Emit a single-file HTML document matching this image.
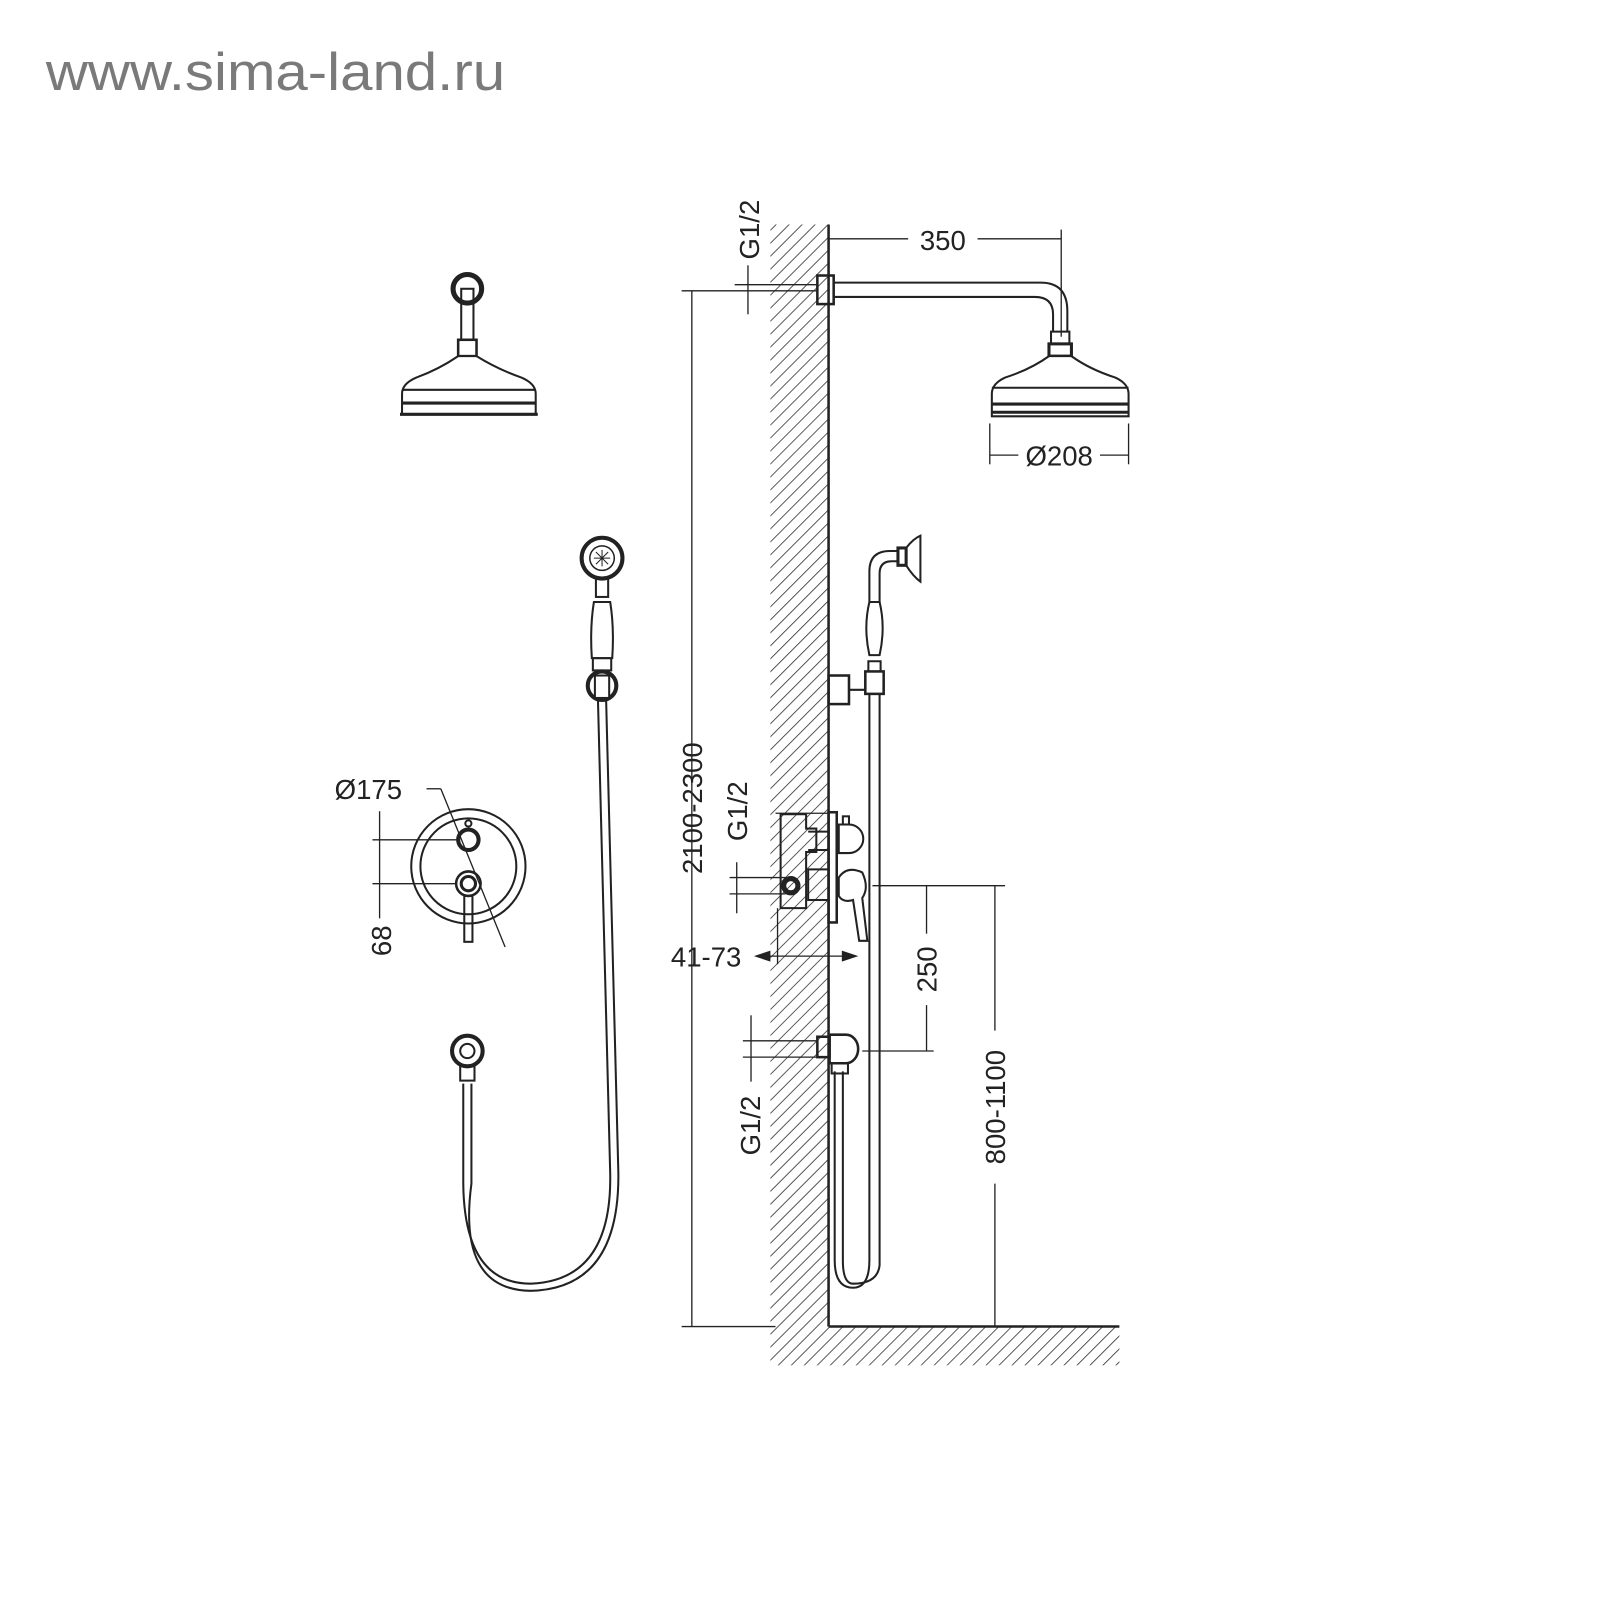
<!DOCTYPE html>
<html><head><meta charset="utf-8"><style>
html,body{margin:0;padding:0;background:#fff;}
svg{display:block}
text{font-family:"Liberation Sans",Arial,sans-serif;fill:#222}
</style></head><body>
<svg width="1600" height="1600" viewBox="0 0 1568 1568" xmlns="http://www.w3.org/2000/svg">
<defs>
<pattern id="h" patternUnits="userSpaceOnUse" width="9" height="9" patternTransform="rotate(45)">
<rect width="9" height="9" fill="#fff"/><line x1="0" y1="0" x2="0" y2="9" stroke="#333" stroke-width="1.6"/>
</pattern>
</defs>
<rect width="1568" height="1568" fill="#fff"/>
<text x="45" y="88" font-size="52" textLength="450" lengthAdjust="spacingAndGlyphs" style="fill:#7a7a7a">www.sima-land.ru</text>

<g stroke="#222" stroke-width="2" fill="none">
<rect x="755" y="220" width="57" height="1080" fill="url(#h)" stroke="none"/>
<rect x="755" y="1300" width="342" height="38" fill="url(#h)" stroke="none"/>
<line x1="812" y1="220" x2="812" y2="1300" stroke-width="2.5"/>
<line x1="812" y1="1300" x2="1097" y2="1300" stroke-width="2.5"/>

<line x1="678" y1="285" x2="678" y2="1300" stroke-width="1.3"/>
<line x1="668" y1="285" x2="800" y2="285" stroke-width="1.3"/>
<line x1="668" y1="1300" x2="760" y2="1300" stroke-width="1.3"/>
<line x1="733" y1="260" x2="733" y2="308" stroke-width="1.3"/>
<line x1="720" y1="279" x2="800" y2="279" stroke-width="1.3"/>

<line x1="812" y1="234" x2="890" y2="234" stroke-width="1.3"/>
<line x1="958" y1="234" x2="1040" y2="234" stroke-width="1.3"/>
<line x1="1040" y1="225" x2="1040" y2="330" stroke-width="1.3"/>

<rect x="801" y="270" width="16" height="28" stroke-width="2.5"/>
<path d="M817 277 H1020 Q1046 277 1046 305 V325"/>
<path d="M817 291 H1014 Q1032 291 1032 308 V325"/>
<rect x="1030" y="325" width="18" height="12"/>
<rect x="1028" y="337" width="22" height="12" stroke-width="3"/>
<path d="M1028 349 Q1010 362 985 370 Q972 376 972 386 V408 H1106 V386 Q1106 376 1093 370 Q1068 362 1050 349 Z" fill="#fff"/>
<line x1="972" y1="380" x2="1106" y2="380"/>
<line x1="972" y1="396" x2="1106" y2="396" stroke-width="3"/>
<line x1="972" y1="404" x2="1106" y2="404" stroke-width="3"/>
<line x1="970" y1="415" x2="970" y2="455" stroke-width="1.3"/>
<line x1="1106" y1="415" x2="1106" y2="455" stroke-width="1.3"/>
<line x1="970" y1="446" x2="998" y2="446" stroke-width="1.3"/>
<line x1="1078" y1="446" x2="1106" y2="446" stroke-width="1.3"/>

<circle cx="458" cy="283" r="14" stroke-width="5"/>
<rect x="452" y="283" width="12" height="50"/>
<rect x="449" y="333" width="18" height="16" stroke-width="2.5"/>
<path d="M449 349 Q430 362 408 370 Q394 376 394 386 V406 H525 V386 Q525 376 511 370 Q488 362 467 349 Z" fill="#fff"/>
<line x1="394" y1="382" x2="525" y2="382"/>
<line x1="394" y1="395" x2="525" y2="395" stroke-width="3"/>
<line x1="392" y1="406" x2="527" y2="406" stroke-width="3"/>

<circle cx="590" cy="547" r="20" stroke-width="4"/>
<circle cx="590" cy="547" r="12" stroke-width="1.5"/>
<path d="M582 547 h16 M590 539 v16 M584 541 l12 12 M596 541 l-12 12" stroke-width="1"/>
<rect x="584" y="567" width="12" height="18"/>
<path d="M582 590 Q578 615 580 645 H600 Q602 615 598 590 Z"/>
<rect x="581" y="645" width="18" height="12"/>
<circle cx="590" cy="672" r="14" stroke-width="4"/>
<rect x="583" y="662" width="14" height="22" fill="#fff"/>
<path d="M586 686 L598 1150 Q600 1255 520 1258 Q455 1258 454 1160 L454 1062"/>
<path d="M594 686 L606 1150 Q607 1263 520 1265 Q448 1264 462 1160 L462 1062"/>
<circle cx="458" cy="1030" r="15" stroke-width="4"/>
<circle cx="458" cy="1030" r="7"/>
<rect x="451" y="1045" width="14" height="14"/>

<circle cx="459" cy="849" r="56"/>
<circle cx="459" cy="849" r="47"/>
<circle cx="459" cy="823" r="10" stroke-width="4"/>
<circle cx="459" cy="807" r="3"/>
<circle cx="459" cy="866" r="12" stroke-width="2.5"/>
<circle cx="459" cy="866" r="7" stroke-width="3"/>
<rect x="455" y="878" width="8" height="45"/>
<line x1="418" y1="773" x2="432" y2="773" stroke-width="1.3"/>
<path d="M432 773 L495 928" stroke-width="1.3"/>
<line x1="372" y1="795" x2="372" y2="900" stroke-width="1.3"/>
<line x1="365" y1="823" x2="450" y2="823" stroke-width="1.3"/>
<line x1="365" y1="866" x2="447" y2="866" stroke-width="1.3"/>

<rect x="812" y="662" width="20" height="28" stroke-width="2.5"/>
<line x1="832" y1="676" x2="848" y2="676"/>
<rect x="848" y="658" width="18" height="22" stroke-width="2.5"/>
<path d="M851 658 V648 H863 V658"/>
<path d="M852 642 Q846 615 852 590 H862 Q868 615 862 642 Z"/>
<path d="M852 590 V560 Q852 540 872 540 H880 M862 590 V562 Q862 550 874 550 H880"/>
<rect x="880" y="537" width="8" height="17" stroke-width="3"/>
<path d="M888 537 Q895 528 902 525 V570 Q895 565 888 554 Z"/>
<path d="M852 680 V1235 Q852 1262 836 1262 Q818 1262 818 1235 V1050"/>
<path d="M862 680 V1240 Q860 1258 836 1258 Q826 1258 826 1235 V1050"/>

<path d="M765 798 H790 V812 H800 V835 H790 V890 H765 Z"/>
<rect x="812" y="796" width="8" height="108" stroke-width="2.5"/>
<path d="M792 815 h20 v18 h-20"/>
<path d="M822 808 h10 a12 12 0 0 1 0 28 h-10 Z"/>
<rect x="826" y="800" width="6" height="8"/>
<rect x="792" y="852" width="20" height="30"/>
<circle cx="775" cy="868" r="7" stroke-width="5"/>
<path d="M822 860 Q830 848 845 855 Q852 870 845 880 L850 922 H842 L836 882 Q826 885 822 878 Z"/>
<line x1="722" y1="845" x2="722" y2="895" stroke-width="1.3"/>
<line x1="715" y1="860" x2="770" y2="860" stroke-width="1.3"/>
<line x1="715" y1="876" x2="770" y2="876" stroke-width="1.3"/>
<line x1="760" y1="797" x2="812" y2="797" stroke-width="1.3"/>
<line x1="742" y1="937" x2="838" y2="937" stroke-width="1.3"/>
<line x1="762" y1="890" x2="762" y2="945" stroke-width="1.3"/>
<path d="M742 937 l12 -4 v8 Z M838 937 l-12 -4 v8 Z" fill="#222"/>
<line x1="855" y1="868" x2="985" y2="868" stroke-width="1.3"/>
<line x1="845" y1="1030" x2="915" y2="1030" stroke-width="1.3"/>
<line x1="908" y1="868" x2="908" y2="915" stroke-width="1.3"/>
<line x1="908" y1="985" x2="908" y2="1030" stroke-width="1.3"/>
<line x1="975" y1="868" x2="975" y2="1010" stroke-width="1.3"/>
<line x1="975" y1="1160" x2="975" y2="1300" stroke-width="1.3"/>
<rect x="801" y="1016" width="12" height="20" stroke-width="2.5"/>
<path d="M813 1014 h16 a12 14 0 0 1 0 28 h-16 Z" stroke-width="2.5"/>
<rect x="815" y="1042" width="16" height="10"/>
<line x1="736" y1="995" x2="736" y2="1060" stroke-width="1.3"/>
<line x1="728" y1="1020" x2="800" y2="1020" stroke-width="1.3"/>
<line x1="728" y1="1036" x2="800" y2="1036" stroke-width="1.3"/>
</g>

<g font-size="27">
<text x="924" y="245" text-anchor="middle">350</text>
<text x="1038" y="456" text-anchor="middle">Ø208</text>
<text x="361" y="783" text-anchor="middle">Ø175</text>
<text x="692" y="947" text-anchor="middle">41-73</text>
<text transform="translate(744,225) rotate(-90)" text-anchor="middle">G1/2</text>
<text transform="translate(732,795) rotate(-90)" text-anchor="middle">G1/2</text>
<text transform="translate(745,1103) rotate(-90)" text-anchor="middle">G1/2</text>
<text transform="translate(688,792) rotate(-90)" text-anchor="middle">2100-2300</text>
<text transform="translate(383,922) rotate(-90)" text-anchor="middle">68</text>
<text transform="translate(918,950) rotate(-90)" text-anchor="middle">250</text>
<text transform="translate(985,1085) rotate(-90)" text-anchor="middle">800-1100</text>
</g>
</svg>
</body></html>
